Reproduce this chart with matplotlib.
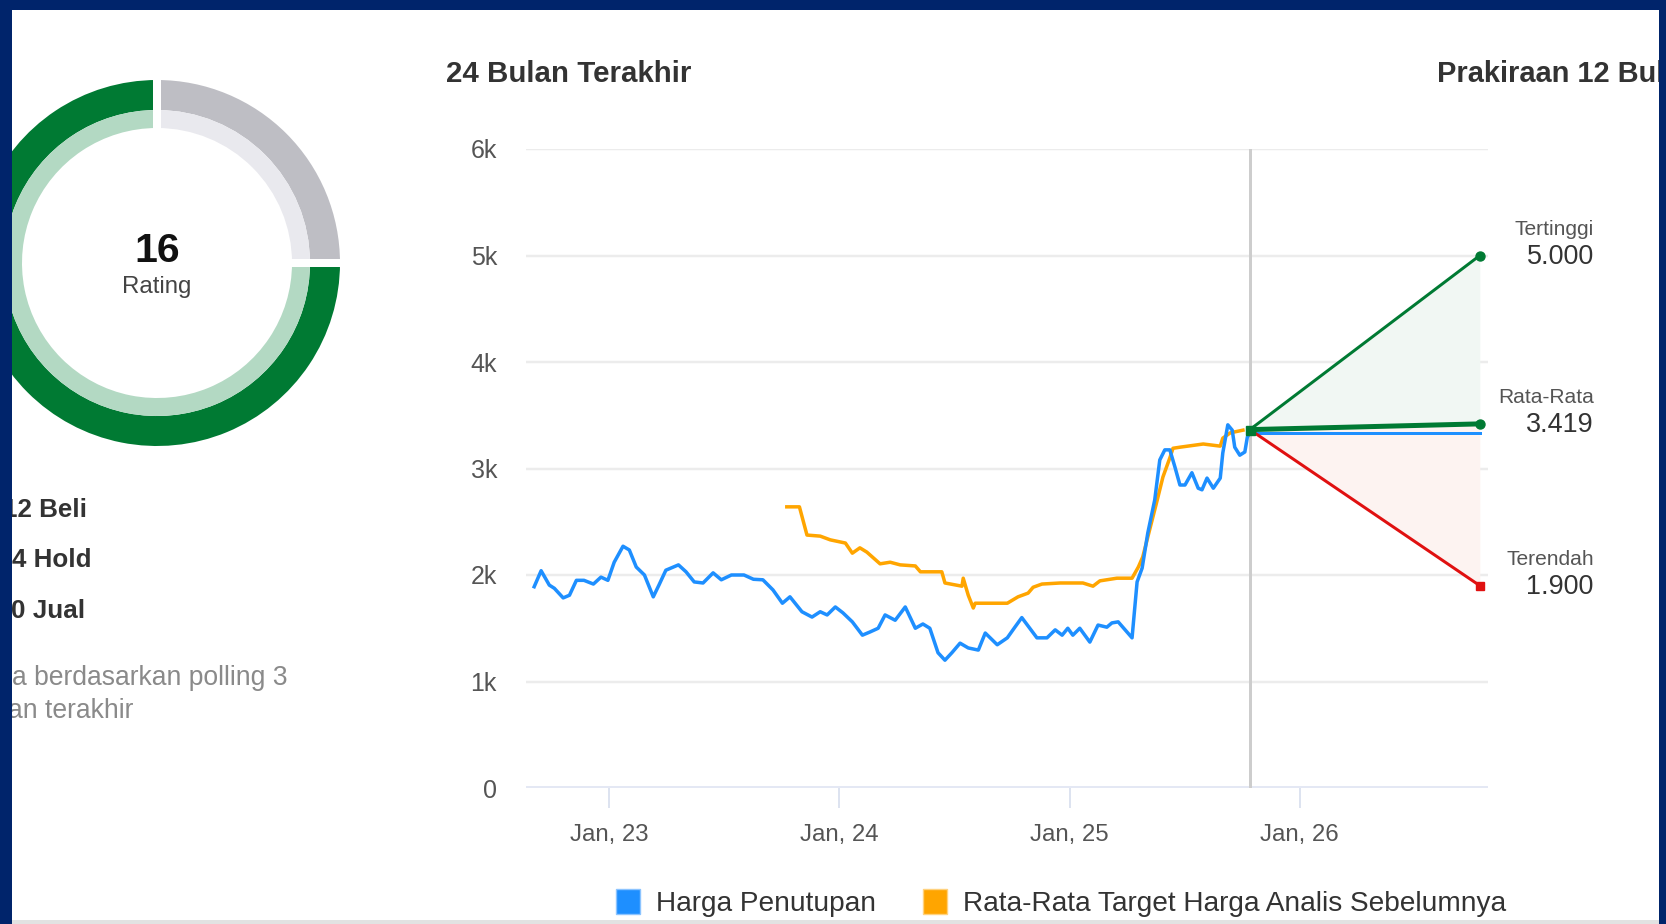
import matplotlib
matplotlib.use("Agg")
import matplotlib.pyplot as plt
from matplotlib.patches import Rectangle, Patch
import numpy as np
import pandas as pd

plt.rcParams['font.family'] = ['Liberation Sans', 'DejaVu Sans']

# ---------------- data ----------------
rating_names = ["Beli", "Hold", "Jual"]
rating_counts = [12, 4, 0]
rating_total_label = "Rating"
note_lines = ["a berdasarkan polling 3", "an terakhir"]

blue_dates = [
    "2022-09-04", "2022-09-15", "2022-09-28", "2022-10-06", "2022-10-20", "2022-10-30", "2022-11-10",
    "2022-11-22", "2022-12-07", "2022-12-19", "2022-12-30",
    "2023-01-09", "2023-01-23", "2023-02-02", "2023-02-13", "2023-02-26", "2023-03-12", "2023-03-21",
    "2023-04-01", "2023-04-21", "2023-05-03", "2023-05-16", "2023-05-30", "2023-06-15", "2023-06-28",
    "2023-07-14", "2023-08-03", "2023-08-18", "2023-09-02", "2023-09-18", "2023-10-03", "2023-10-15",
    "2023-11-03", "2023-11-19", "2023-12-02", "2023-12-13", "2023-12-26",
    "2024-01-07", "2024-01-22", "2024-02-07", "2024-02-19", "2024-03-03", "2024-03-14", "2024-03-30",
    "2024-04-15", "2024-05-01", "2024-05-13", "2024-05-24", "2024-06-06", "2024-06-17", "2024-06-28",
    "2024-07-11", "2024-07-24", "2024-08-09", "2024-08-20", "2024-09-08", "2024-09-24", "2024-10-06",
    "2024-10-17", "2024-11-10", "2024-11-26", "2024-12-09", "2024-12-20", "2024-12-29",
    "2025-01-06", "2025-01-17", "2025-02-02", "2025-02-15", "2025-03-01", "2025-03-09", "2025-03-19",
    "2025-03-30", "2025-04-10", "2025-04-18", "2025-04-26", "2025-05-05", "2025-05-16", "2025-05-24",
    "2025-06-01", "2025-06-09", "2025-06-17", "2025-06-25", "2025-07-03", "2025-07-14", "2025-07-24",
    "2025-07-30", "2025-08-07", "2025-08-17", "2025-08-28", "2025-09-01", "2025-09-09", "2025-09-16",
    "2025-09-20", "2025-09-28", "2025-10-06", "2025-10-10", "2025-10-14",
]
blue_values = [
    1890, 2040, 1905, 1875, 1785, 1810, 1950, 1950, 1915, 1980, 1950,
    2120, 2270, 2235, 2075, 2000, 1795, 1905, 2045, 2095, 2030, 1935, 1925, 2020, 1955, 2000,
    2000, 1960, 1955, 1860, 1735, 1795, 1655, 1605, 1655, 1625, 1700,
    1645, 1560, 1435, 1465, 1500, 1625, 1575, 1700, 1500, 1540, 1500, 1270, 1200, 1270, 1360,
    1315, 1295, 1455, 1345, 1410, 1510, 1600, 1410, 1410, 1485, 1435, 1500,
    1435, 1500, 1370, 1530, 1510, 1550, 1560, 1485, 1410, 1935, 2065, 2395, 2705, 3080, 3175,
    3175, 3015, 2845, 2845, 2960, 2815, 2800, 2910, 2815, 2910, 3145, 3410, 3360, 3200, 3125,
    3155, 3295, 3330,
]

orange_dates = [
    "2023-10-10", "2023-10-30", "2023-11-11", "2023-12-02", "2023-12-18", "2024-01-11", "2024-01-22",
    "2024-02-03", "2024-02-14", "2024-03-06", "2024-03-22", "2024-04-07", "2024-05-01", "2024-05-09",
    "2024-06-12", "2024-06-17", "2024-07-14", "2024-07-16", "2024-07-24", "2024-08-01", "2024-08-04",
    "2024-09-24", "2024-10-11", "2024-10-27", "2024-11-04", "2024-11-18", "2024-12-17", "2025-01-22",
    "2025-02-07", "2025-02-18", "2025-03-17", "2025-04-10", "2025-04-20", "2025-04-27", "2025-05-09",
    "2025-05-20", "2025-05-29", "2025-06-09", "2025-06-14", "2025-06-25", "2025-08-01", "2025-08-28",
    "2025-09-01", "2025-09-13", "2025-10-03",
]
orange_values = [
    2640, 2640, 2375, 2365, 2330, 2300, 2205, 2255, 2215, 2105, 2120, 2095, 2085, 2030,
    2030, 1925, 1895, 1970, 1810, 1690, 1735, 1735, 1795, 1830, 1885, 1915, 1925, 1925,
    1895, 1945, 1970, 1970, 2075, 2170, 2450, 2705, 2920, 3100, 3190, 3200, 3230, 3210,
    3285, 3335, 3360,
]

now_date = "2025-10-14"
forecast_end = "2026-10-14"
forecast_start = 3365
last_close = 3330
forecast_high = 5000
forecast_mean = 3419
forecast_low = 1900
forecast_names = ["Tertinggi", "Rata-Rata", "Terendah"]

x_range = ["2022-08-22", "2026-10-27"]
xtick_dates = ["2023-01-01", "2024-01-01", "2025-01-01", "2026-01-01"]
xtick_labels = ["Jan, 23", "Jan, 24", "Jan, 25", "Jan, 26"]
ytick_values = [0, 1000, 2000, 3000, 4000, 5000, 6000]
ytick_labels = ["0", "1k", "2k", "3k", "4k", "5k", "6k"]

legend_labels = ["Harga Penutupan", "Rata-Rata Target Harga Analis Sebelumnya"]
title_left = "24 Bulan Terakhir"
title_right = "Prakiraan 12 Bul"

# ---------------- styles ----------------
W, H = 1666, 924
NAVY = "#00246b"
BLUE = "#1e8fff"
ORANGE = "#ffa500"
GREEN = "#007a33"
GREEN_L = "#b3d9c3"
GREY = "#bebec4"
GREY_L = "#e9e9ee"
RED = "#e01010"
TXT = "#333333"
TXT2 = "#555555"

def fx(x):
    return x / W

def fy(y):
    return 1 - y / H

def pt(px):
    return px * 0.72

fig = plt.figure(figsize=(W / 100, H / 100), dpi=100)
fig.patch.set_facecolor("white")

# ---------------- donut ----------------
cx, cy, half = 157, 263, 200
axd = fig.add_axes([fx(cx - half), fy(cy + half), 2 * half / W, 2 * half / H])
vals = [rating_counts[1], rating_counts[0]]
wedges_o, _ = axd.pie(vals, colors=[GREY, GREEN], radius=183, startangle=90, counterclock=False,
                      wedgeprops=dict(width=30, linewidth=0))
wedges_i, _ = axd.pie(vals, colors=[GREY_L, GREEN_L], radius=153, startangle=90, counterclock=False,
                      wedgeprops=dict(width=18, linewidth=0))
for w in wedges_o:
    th = np.deg2rad(w.theta1)
    axd.plot([130 * np.cos(th), 190 * np.cos(th)], [130 * np.sin(th), 190 * np.sin(th)],
             color="white", lw=pt(8), solid_capstyle="butt", zorder=5)
axd.set_xlim(-half, half)
axd.set_ylim(-half, half)
axd.set_aspect("equal")
axd.axis("off")

fig.text(fx(cx), fy(251), str(sum(rating_counts)), ha="center", va="center",
         fontsize=pt(41), fontweight="bold", color="#111111")
fig.text(fx(cx), fy(287), rating_total_label, ha="center", va="center",
         fontsize=pt(24), color="#444444")

count_right = [87, 91, 85]
count_y = [510, 560, 611]
for n, name, xr, yy in zip(rating_counts, rating_names, count_right, count_y):
    fig.text(fx(xr), fy(yy), f"{n} {name}", ha="right", va="center",
             fontsize=pt(26), fontweight="bold", color=TXT)

fig.text(fx(287), fy(678), note_lines[0], ha="right", va="center", fontsize=pt(26.5), color="#8a8a8a")
fig.text(fx(133), fy(711), note_lines[1], ha="right", va="center", fontsize=pt(26.5), color="#8a8a8a")

# ---------------- main chart ----------------
L, R, T, B = 526, 1488, 149, 788
ax = fig.add_axes([fx(L), fy(B), (R - L) / W, (B - T) / H])
for s in ax.spines.values():
    s.set_visible(False)

bd = pd.to_datetime(blue_dates)
od = pd.to_datetime(orange_dates)
t_now = pd.Timestamp(now_date)
t_end = pd.Timestamp(forecast_end)

ax.set_xlim(pd.Timestamp(x_range[0]), pd.Timestamp(x_range[1]))
ax.set_ylim(ytick_values[0], ytick_values[-1])

for v in ytick_values[1:]:
    ax.axhline(v, color="#ececec", lw=pt(2.5), zorder=0)
ax.axhline(0, color="#e4e8f4", lw=pt(4), zorder=1)
ax.axvline(t_now, color="#cdcdcd", lw=pt(3), zorder=1)

ax.set_yticks(ytick_values)
ax.set_yticklabels(ytick_labels)
ax.set_xticks(pd.to_datetime(xtick_dates))
ax.set_xticklabels(xtick_labels)
ax.tick_params(axis="y", length=0, pad=pt(29), labelsize=pt(25), labelcolor=TXT2)
ax.tick_params(axis="x", length=pt(20), width=pt(2), color="#dde3f0", pad=pt(16),
               labelsize=pt(24), labelcolor=TXT2, direction="out")

# forecast fills
fdates = [t_now, t_end]
ax.fill_between(fdates, [forecast_start, forecast_high], [forecast_start, forecast_mean],
                color="#f1f7f3", lw=0, zorder=2)
ax.fill_between(fdates, [forecast_start, forecast_mean], [forecast_start, forecast_low],
                color="#fdf3f1", lw=0, zorder=2)

ax.plot(bd, blue_values, color=BLUE, lw=pt(3.5), zorder=4, solid_joinstyle="round")
ax.plot(od, orange_values, color=ORANGE, lw=pt(3.5), zorder=3, solid_joinstyle="round")

ax.plot(fdates, [last_close, last_close], color=BLUE, lw=pt(3), zorder=4)
ax.plot(fdates, [forecast_start, forecast_high], color=GREEN, lw=pt(3), zorder=5)
ax.plot(fdates, [forecast_start, forecast_mean], color=GREEN, lw=pt(5), zorder=5)
ax.plot(fdates, [forecast_start, forecast_low], color=RED, lw=pt(3), zorder=5)
ax.plot([t_end, t_end], [forecast_high, forecast_mean], ls="none", marker="o", ms=pt(9),
        color=GREEN, zorder=6)
ax.plot([t_end], [forecast_low], ls="none", marker="s", ms=pt(8), color=RED, zorder=6)
ax.plot([t_now], [forecast_start], ls="none", marker="s", ms=pt(9), color=GREEN, zorder=6)

for name, val in zip(forecast_names, [forecast_high, forecast_mean, forecast_low]):
    vs = f"{val:,.0f}".replace(",", ".")
    ax.annotate(vs, xy=(t_end, val), xytext=(pt(114), -pt(1)), textcoords="offset points",
                ha="right", va="center", fontsize=pt(27), color=TXT, annotation_clip=False)
    ax.annotate(name, xy=(t_end, val), xytext=(pt(114), pt(26)), textcoords="offset points",
                ha="right", va="center", fontsize=pt(21), color=TXT2, annotation_clip=False)

# titles
fig.text(fx(446), fy(74), title_left, ha="left", va="center", fontsize=pt(29.5),
         fontweight="bold", color=TXT)
fig.text(fx(1437), fy(74), title_right, ha="left", va="center", fontsize=pt(29),
         fontweight="bold", color=TXT)

# legend
handles = [Patch(facecolor=BLUE, edgecolor="#8cc4ff", lw=1.0),
           Patch(facecolor=ORANGE, edgecolor="#ffd27f", lw=1.0)]
fig.legend(handles, legend_labels, loc="center", bbox_to_anchor=(fx(1061), fy(903)), ncol=2,
           frameon=False, fontsize=pt(28), handlelength=0.86, handleheight=1.0,
           handletextpad=0.57, columnspacing=1.7, labelcolor=TXT)

# border frame
fig.add_artist(Rectangle((0, fy(10)), 1, 10 / H, transform=fig.transFigure, color=NAVY, zorder=100, lw=0))
fig.add_artist(Rectangle((0, 0), 12 / W, 1, transform=fig.transFigure, color=NAVY, zorder=100, lw=0))
fig.add_artist(Rectangle((fx(1659), 0), 7 / W, 1, transform=fig.transFigure, color=NAVY, zorder=100, lw=0))
fig.add_artist(Rectangle((fx(12), 0), (1659 - 12) / W, 4 / H, transform=fig.transFigure,
                         color="#e2e2e2", zorder=99, lw=0))

fig.savefig("out.png", dpi=100)
